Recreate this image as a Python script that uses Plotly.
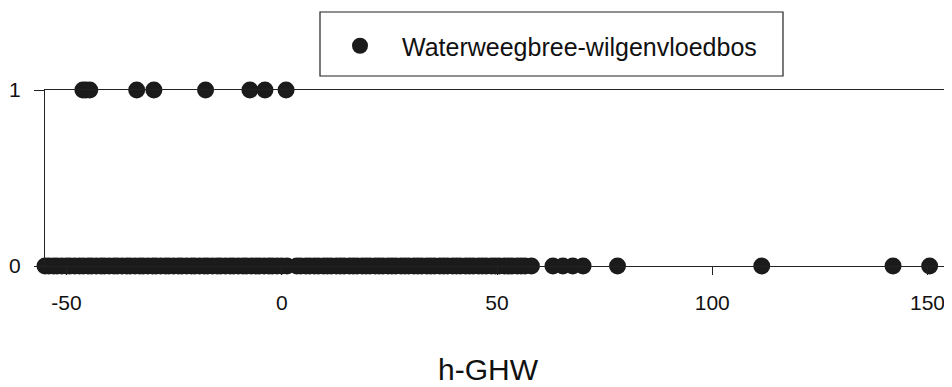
import plotly.graph_objects as go

series_name = "Waterweegbree-wilgenvloedbos"
x_title = "h-GHW"

# h-GHW values where presence = 1
x_present = [-46.2, -45.5, -44.6, -33.7, -29.7, -17.7, -7.4, -3.9, 1.0]
y_present = [1, 1, 1, 1, 1, 1, 1, 1, 1]

# h-GHW values where presence = 0
x_absent = [-55.0, -54.1, -53.0, -52.2, -51.1, -50.0, -49.2, -48.1, -47.0, -46.1,
            -45.0, -44.2, -43.1, -42.0, -41.2, -40.1, -39.0, -38.2, -37.1, -36.0,
            -35.2, -34.1, -33.0, -32.2, -31.1, -30.0, -29.2, -28.1, -27.0, -26.2,
            -25.1, -24.0, -23.2, -22.1, -21.0, -20.2, -19.1, -18.0, -17.2, -16.1,
            -15.0, -14.2, -13.1, -12.0, -11.2, -10.1, -9.0, -8.2, -7.1, -6.0,
            -5.2, -4.1, -3.0, -2.2, -1.1, 0.0, 1.2, 3.5, 4.4, 5.6, 6.5,
            7.6, 8.5, 9.7, 10.6, 11.5, 12.7, 13.6, 14.5, 15.7, 16.6, 17.5,
            18.7, 19.6, 20.5, 21.7, 22.6, 23.5, 24.7, 25.6, 26.5, 27.7, 28.6,
            29.5, 30.7, 31.6, 32.5, 33.7, 34.6, 35.5, 36.7, 37.6, 38.5, 39.7,
            40.6, 41.5, 42.7, 43.6, 44.5, 45.7, 46.6, 47.5, 48.7, 49.6, 50.5,
            51.7, 52.6, 53.5, 54.7, 55.6, 56.5, 58.0,
            63.0, 65.3, 67.6, 70.0, 78.0, 111.5, 142.0, 150.5]
y_absent = [0] * len(x_absent)

x_ticks = [-50, 0, 50, 100, 150]
y_ticks = [0, 1]

x_all = x_present + x_absent
y_all = y_present + y_absent

FONT = "Liberation Sans, Arial, sans-serif"
INK = "#1b1b1b"
TXT = "#111111"
LINE = "#222222"

fig = go.Figure()
fig.add_trace(go.Scatter(
    x=x_all, y=y_all, mode="markers", name=series_name,
    marker=dict(size=17, color=INK, line=dict(width=0)),
    cliponaxis=False, showlegend=True,
))

# page body has an 8px default margin, so the figure is 944x379 and
# everything is laid out 8px up/left of the target screen position
PW, PH = 904, 176
fig.update_layout(
    width=944, height=379,
    margin=dict(l=37, r=3, t=82, b=121, autoexpand=False),
    paper_bgcolor="white", plot_bgcolor="white",
    font=dict(family=FONT, color=TXT),
    showlegend=True,
    legend=dict(
        x=(318 - 45) / PW, y=1 + (90 - 46) / PH, xanchor="left", yanchor="middle",
        itemwidth=74,
        bgcolor="rgba(0,0,0,0)", borderwidth=0,
        font=dict(family=FONT, size=25, color=TXT),
    ),
    xaxis=dict(
        range=[-55, 155], tickvals=x_ticks, ticktext=[str(v) for v in x_ticks],
        automargin=False,
        showgrid=False, zeroline=False, showline=True, linecolor=LINE,
        linewidth=1.2, mirror=True, ticks="outside", ticklen=8,
        tickcolor=LINE, tickfont=dict(family=FONT, size=21, color=TXT),
        ticklabelstandoff=10,
    ),
    yaxis=dict(
        range=[0, 1], tickvals=y_ticks, ticktext=[str(v) for v in y_ticks],
        automargin=False,
        showgrid=False, zeroline=False, showline=True, linecolor=LINE,
        linewidth=1.2, mirror=True, ticks="outside", ticklen=10,
        tickcolor=LINE, tickfont=dict(family=FONT, size=21, color=TXT),
        ticklabelstandoff=9,
    ),
    annotations=[dict(text=x_title, xref="paper", yref="paper",
                      x=(488 - 45) / PW, y=(266 - 369) / PH,
                      xanchor="center", yanchor="middle", showarrow=False,
                      font=dict(family=FONT, size=30, color=TXT))],
    shapes=[dict(type="rect", xref="paper", yref="paper",
                 x0=(320 - 45) / PW, x1=(783 - 45) / PW,
                 y0=1 + (90 - 76) / PH, y1=1 + (90 - 12) / PH,
                 line=dict(color=LINE, width=1.2), fillcolor="rgba(0,0,0,0)")],
)

fig.write_html("out.html")
